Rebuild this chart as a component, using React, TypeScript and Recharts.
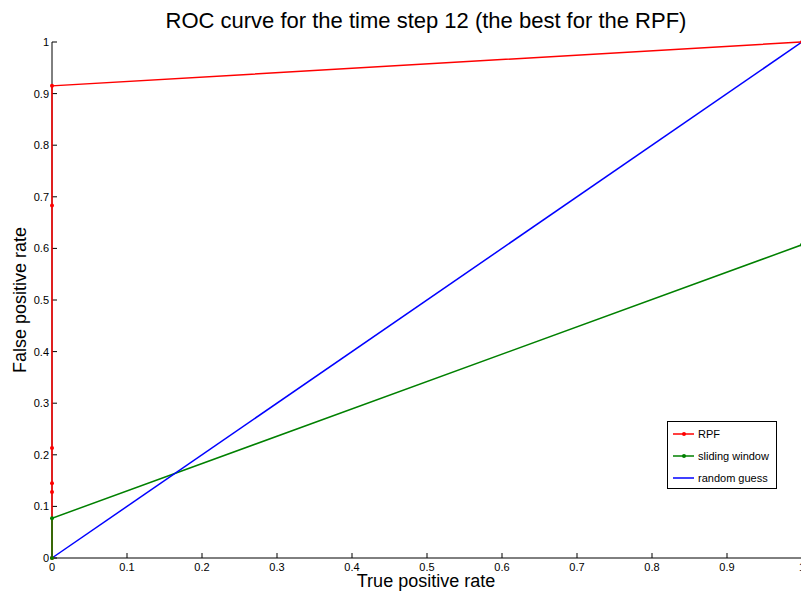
import React from 'react';
import { LineChart, Line, XAxis, YAxis } from 'recharts';

const xTicks = [0, 0.1, 0.2, 0.3, 0.4, 0.5, 0.6, 0.7, 0.8, 0.9, 1];
const yTicks = [0, 0.1, 0.2, 0.3, 0.4, 0.5, 0.6, 0.7, 0.8, 0.9, 1];

const rpfX = [0, 0, 0, 0, 0, 0, 1];
const rpfY = [0, 0.128, 0.145, 0.213, 0.683, 0.915, 1];
const slidingX = [0, 0, 1];
const slidingY = [0, 0.077, 0.607];
const randomX = [0, 1];
const randomY = [0, 1];

const toPoints = (xs: number[], ys: number[]) => xs.map((x, i) => ({ x, y: ys[i] }));

const rpfData = toPoints(rpfX, rpfY);
const slidingData = toPoints(slidingX, slidingY);
const randomData = toPoints(randomX, randomY);

const series = [
  { name: 'RPF', color: '#ff0000', marker: true },
  { name: 'sliding window', color: '#008000', marker: true },
  { name: 'random guess', color: '#0000ff', marker: false },
];

const FONT = '"Liberation Sans", Arial, Helvetica, sans-serif';
const W = 801;
const H = 596;
const MARGIN = { top: 42, right: -1, bottom: 38, left: 52 };

const XTick = (props: any) => {
  const { x, y, payload } = props;
  return (
    <g>
      <line x1={x} y1={y} x2={x} y2={y - 5} stroke="#000" strokeWidth={1} />
      <text x={x} y={y + 13} textAnchor="middle" fontSize={11} fill="#000" fontFamily={FONT}>
        {String(payload.value)}
      </text>
    </g>
  );
};

const YTick = (props: any) => {
  const { x, y, payload } = props;
  return (
    <g>
      <line x1={x} y1={y} x2={x + 5} y2={y} stroke="#000" strokeWidth={1} />
      <text x={x - 3} y={y + 4} textAnchor="end" fontSize={11} fill="#000" fontFamily={FONT}>
        {String(payload.value)}
      </text>
    </g>
  );
};

const LegendBox = () => (
  <div
    style={{
      position: 'absolute',
      left: 667,
      top: 421,
      width: 108,
      height: 66,
      border: '1px solid #000',
      background: '#fff',
      fontFamily: FONT,
      fontSize: 11,
      color: '#000',
    }}
  >
    {series.map((s, i) => (
      <div key={s.name} style={{ position: 'absolute', left: 0, top: 4 + i * 22, height: 16, display: 'flex', alignItems: 'center' }}>
        <svg width={30} height={16}>
          <line x1={5} y1={8} x2={26} y2={8} stroke={s.color} strokeWidth={1.5} />
          {s.marker && <circle cx={16} cy={8} r={2} fill={s.color} />}
        </svg>
        <span>{s.name}</span>
      </div>
    ))}
  </div>
);

export default function App() {
  return (
    <div style={{ position: 'absolute', left: 0, top: 0, width: W, height: H, background: '#fff', overflow: 'hidden' }}>
      <div
        style={{
          position: 'absolute',
          left: 0,
          width: 852,
          top: 8,
          lineHeight: 'normal',
          textAlign: 'center',
          fontFamily: FONT,
          fontSize: 22,
          color: '#000',
        }}
      >
        ROC curve for the time step 12 (the best for the RPF)
      </div>
      <div
        style={{
          position: 'absolute',
          left: 0,
          width: 852,
          top: 573,
          lineHeight: '16px',
          textAlign: 'center',
          fontFamily: FONT,
          fontSize: 18,
          color: '#000',
        }}
      >
        True positive rate
      </div>
      <div
        style={{
          position: 'absolute',
          left: 20,
          top: 300,
          transform: 'translate(-50%, -50%) rotate(-90deg)',
          whiteSpace: 'nowrap',
          fontFamily: FONT,
          fontSize: 18,
          color: '#000',
        }}
      >
        False positive rate
      </div>
      {/* axes layer, drawn beneath the series */}
      <LineChart width={W} height={H} margin={{ top: MARGIN.top, right: MARGIN.right, bottom: 0, left: 0 }} style={{ position: 'absolute', left: 0, top: 0 }}>
        <XAxis
          type="number"
          dataKey="x"
          domain={[0, 1]}
          ticks={xTicks}
          tick={<XTick />}
          tickSize={0}
          tickMargin={0}
          height={MARGIN.bottom}
          stroke="#000"
          interval={0}
        />
        <YAxis
          type="number"
          dataKey="y"
          domain={[0, 1]}
          ticks={yTicks}
          tick={<YTick />}
          tickSize={0}
          tickMargin={0}
          width={MARGIN.left}
          stroke="#000"
          interval={0}
        />
        <Line data={randomData} dataKey="y" stroke="none" dot={false} legendType="none" isAnimationActive={false} />
      </LineChart>
      {/* series layer */}
      <LineChart width={W} height={H} margin={MARGIN} style={{ position: 'absolute', left: 0, top: 0 }}>
        <XAxis type="number" dataKey="x" domain={[0, 1]} hide />
        <YAxis type="number" dataKey="y" domain={[0, 1]} hide />
        <Line
          data={rpfData}
          dataKey="y"
          name="RPF"
          stroke="#ff0000"
          strokeWidth={1.5}
          dot={{ r: 2, fill: '#ff0000', stroke: '#ff0000', strokeWidth: 0 }}
          isAnimationActive={false}
        />
        <Line
          data={slidingData}
          dataKey="y"
          name="sliding window"
          stroke="#008000"
          strokeWidth={1.5}
          dot={{ r: 2, fill: '#008000', stroke: '#008000', strokeWidth: 0 }}
          isAnimationActive={false}
        />
        <Line
          data={randomData}
          dataKey="y"
          name="random guess"
          stroke="#0000ff"
          strokeWidth={1.5}
          dot={false}
          isAnimationActive={false}
        />
      </LineChart>
      <LegendBox />
    </div>
  );
}
